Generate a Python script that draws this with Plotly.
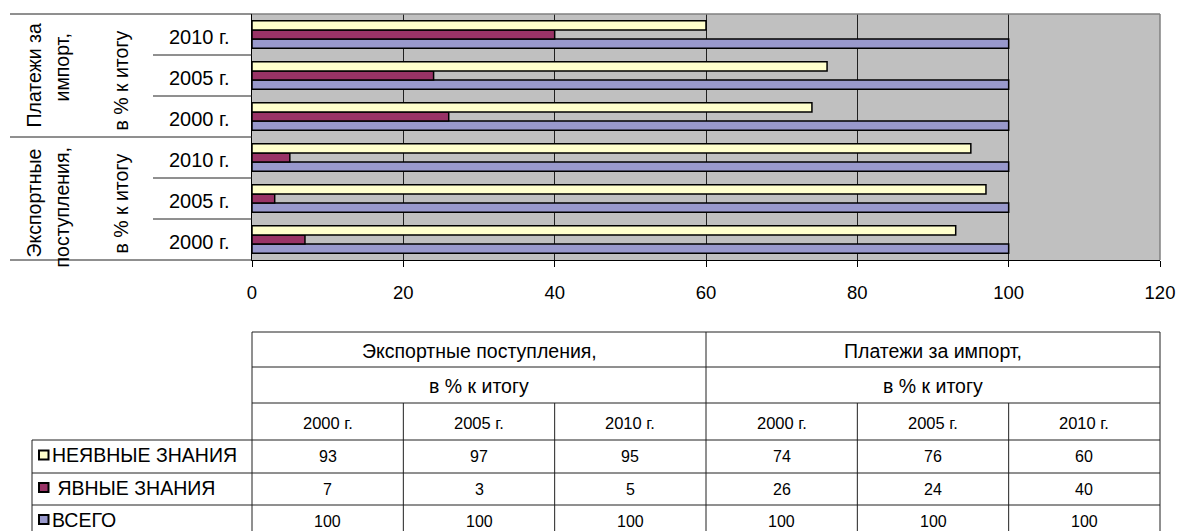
import plotly.graph_objects as go

# ---------------- data ----------------
group_lines = [["Экспортные", "поступления,"], ["Платежи за", "импорт,"]]
group_names = ["Экспортные поступления,", "Платежи за импорт,"]
unit_label = "в % к итогу"
years = ["2000 г.", "2005 г.", "2010 г."]
series_names = ["НЕЯВНЫЕ ЗНАНИЯ", "ЯВНЫЕ ЗНАНИЯ", "ВСЕГО"]
tacit = [93, 97, 95, 74, 76, 60]      # export 2000,2005,2010, import 2000,2005,2010
explicit = [7, 3, 5, 26, 24, 40]
total = [100, 100, 100, 100, 100, 100]
x_ticks = [0, 20, 40, 60, 80, 100, 120]
colors = ["#FFFFCC", "#993366", "#9999CC"]

# ---------------- geometry helpers ----------------
W, H = 1179, 531
FONT = "Arial, Liberation Sans, sans-serif"
CYR = 19.5                   # size for Cyrillic texts
NUM = 16                     # size for numbers in the table


def px(x):
    return x / W


def py(y):
    return 1 - y / H


DX0, DX1 = px(252), px(1160)
DY0, DY1 = py(260), py(14)
XMAX = x_ticks[-1]
NCAT = len(tacit)


def xp(v):
    return DX0 + v / XMAX * (DX1 - DX0)


def yp(v):
    return DY0 + (v + 0.5) / NCAT * (DY1 - DY0)


cats = list(range(NCAT))
series_vals = [tacit, explicit, total]

fig = go.Figure()
# bottom-to-top inside each group: ВСЕГО, ЯВНЫЕ, НЕЯВНЫЕ
for idx in [2, 1, 0]:
    fig.add_trace(go.Bar(
        y=cats, x=series_vals[idx], orientation="h", name=series_names[idx],
        marker=dict(color=colors[idx], line=dict(color="#000000", width=1.5)),
        showlegend=False, hoverinfo="x+name",
    ))

shapes = []
annotations = []
LINE = "#202020"

# left multi-level category labels
line_x = [33, 61]
line_shift = [[-5, -9], [0, 8]]
for g in range(2):
    for k in range(3):
        c = g * 3 + k
        annotations.append(dict(
            text=years[k], xref="paper", yref="y", x=px(199), y=c, yshift=-2,
            xanchor="center", yanchor="middle", showarrow=False,
            font=dict(family=FONT, size=20, color="#000")))
    center = g * 3 + 1
    for li, line in enumerate(group_lines[g]):
        annotations.append(dict(
            text=line, xref="paper", yref="y", x=px(line_x[li]), y=center,
            yshift=line_shift[g][li], textangle=-90, xanchor="center", yanchor="middle",
            showarrow=False, font=dict(family=FONT, size=CYR, color="#000")))
    annotations.append(dict(
        text=unit_label, xref="paper", yref="y", x=px(120), y=center,
        yshift=-5, textangle=-90, xanchor="center", yanchor="middle",
        showarrow=False, font=dict(family=FONT, size=CYR, color="#000")))

# separators at left
for b in range(NCAT + 1):
    v = b - 0.5
    x_start = px(10) if b % 3 == 0 else px(153)
    shapes.append(dict(type="line", xref="paper", yref="paper",
                       x0=x_start, x1=DX0, y0=yp(v), y1=yp(v),
                       line=dict(color=LINE, width=1)))

# grey border top/right of plot area
shapes.append(dict(type="line", xref="paper", yref="paper", x0=DX0, x1=DX1,
                   y0=DY1, y1=DY1, line=dict(color="#808080", width=1.5), layer="above"))
shapes.append(dict(type="line", xref="paper", yref="paper", x0=DX1, x1=DX1,
                   y0=DY0, y1=DY1, line=dict(color="#808080", width=1.5), layer="above"))

# ---------------- data table ----------------
row_y = [332, 367, 403, 440, 473, 505, 537]
legend_x = 32
for i, y in enumerate(row_y[:-1]):
    x0 = DX0 if i < 3 else px(legend_x)
    shapes.append(dict(type="line", xref="paper", yref="paper", x0=x0, x1=DX1,
                       y0=py(y), y1=py(y), line=dict(color=LINE, width=1)))
for v in x_ticks:
    top = row_y[0] if v in (0, 60, 120) else row_y[2]
    shapes.append(dict(type="line", xref="paper", yref="paper", x0=xp(v), x1=xp(v),
                       y0=py(top), y1=py(row_y[-1]), line=dict(color=LINE, width=1)))
shapes.append(dict(type="line", xref="paper", yref="paper", x0=px(legend_x), x1=px(legend_x),
                   y0=py(row_y[3]), y1=py(row_y[-1]), line=dict(color=LINE, width=1)))

cfont = dict(family=FONT, size=CYR, color="#000")
nfont = dict(family=FONT, size=NUM, color="#000")
yfont = dict(family=FONT, size=16.5, color="#000")


def row_center(i):
    return py((row_y[i] + row_y[i + 1]) / 2)


for g in range(2):
    xc = (x_ticks[g * 3] + x_ticks[g * 3 + 3]) / 2
    annotations.append(dict(text=group_names[g], xref="x", yref="paper", x=xc,
                            y=row_center(0), yshift=-1, showarrow=False, font=cfont,
                            xanchor="center", yanchor="middle"))
    annotations.append(dict(text=unit_label, xref="x", yref="paper", x=xc,
                            y=row_center(1), yshift=-1, showarrow=False, font=cfont,
                            xanchor="center", yanchor="middle"))
    for k in range(3):
        c = g * 3 + k
        xc2 = (x_ticks[c] + x_ticks[c + 1]) / 2
        annotations.append(dict(text=years[k], xref="x", yref="paper", x=xc2,
                                y=row_center(2), yshift=-1, showarrow=False, font=yfont,
                                xanchor="center", yanchor="middle"))
        for s in range(3):
            annotations.append(dict(text=str(series_vals[s][c]), xref="x", yref="paper",
                                    x=xc2, y=row_center(3 + s), showarrow=False,
                                    font=nfont, xanchor="center", yanchor="middle"))

# legend keys + names
for s in range(3):
    yc = (row_y[3 + s] + row_y[4 + s]) / 2 - 1.5
    shapes.append(dict(type="rect", xref="paper", yref="paper",
                       x0=px(39), x1=px(48.5), y0=py(yc - 4.5), y1=py(yc + 4.5),
                       fillcolor=colors[s], line=dict(color="#000", width=2)))
    label = ("\u00a0" + series_names[s]) if s == 1 else series_names[s]
    annotations.append(dict(text=label, xref="paper", yref="paper", x=px(49.5),
                            y=py(yc), showarrow=False, font=cfont,
                            xanchor="left", yanchor="middle"))

fig.update_layout(
    width=W, height=H,
    margin=dict(l=0, r=0, t=0, b=0),
    paper_bgcolor="#FFFFFF", plot_bgcolor="#C0C0C0",
    barmode="group", bargap=0.33, bargroupgap=0,
    xaxis=dict(domain=[DX0, DX1], range=[0, XMAX], tickvals=x_ticks,
               showgrid=True, gridcolor="#202020", gridwidth=1, zeroline=False,
               showline=True, linecolor="#000", linewidth=1,
               ticks="outside", ticklen=6, tickcolor="#000", tickwidth=1,
               tickfont=dict(family=FONT, size=18.5, color="#000"),
               ticklabelstandoff=10, ticklabeloverflow="allow",
               automargin=False, fixedrange=True),
    yaxis=dict(domain=[DY0, DY1], range=[-0.5, NCAT - 0.5], showgrid=False,
               zeroline=False, showline=True, linecolor="#000", linewidth=1,
               showticklabels=False, ticks="", automargin=False, fixedrange=True),
    shapes=shapes, annotations=annotations,
)

# remove the default 8px page margin so the figure sits at the window's corner
fig.write_html("out.html", config={"displayModeBar": False},
               post_script="document.body.style.margin='0px';document.body.style.overflow='hidden';")
